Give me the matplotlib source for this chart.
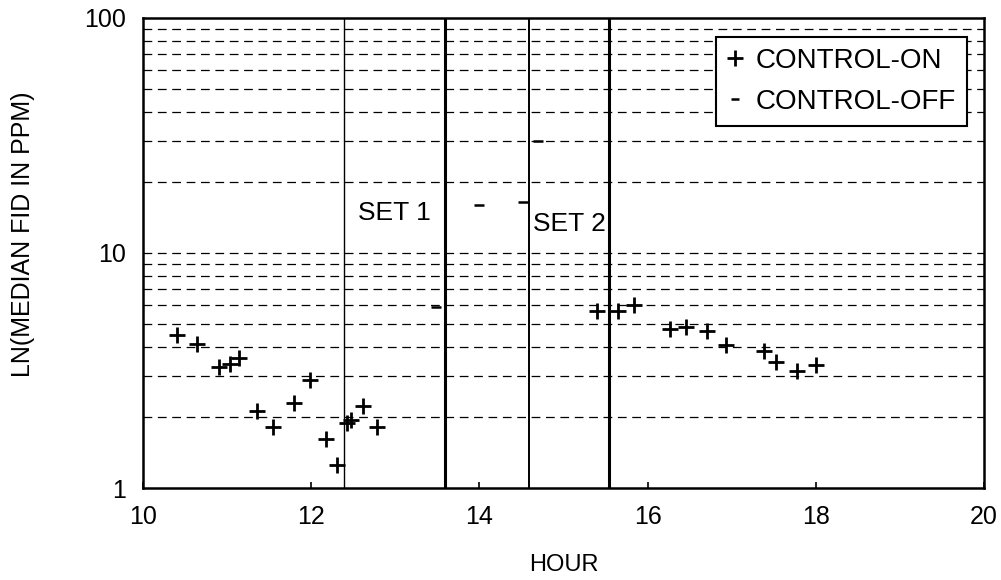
import matplotlib
matplotlib.use("Agg")
import matplotlib.pyplot as plt
from matplotlib.lines import Line2D
from matplotlib.ticker import FixedLocator, NullFormatter, FixedFormatter

plt.rcParams['font.family'] = ['Liberation Sans', 'DejaVu Sans']

# control-on samples (hour, median FID in ppm)
on_hour = [10.40, 10.64, 10.90, 11.03, 11.14, 11.36, 11.54, 11.80, 11.99,
           12.17, 12.31, 12.42, 12.47, 12.61, 12.78,
           15.40, 15.65, 15.84, 16.27, 16.46, 16.71, 16.93,
           17.38, 17.53, 17.78, 18.00]
on_ppm = [4.48, 4.09, 3.26, 3.37, 3.56, 2.13, 1.82, 2.30, 2.88,
          1.62, 1.25, 1.90, 1.95, 2.23, 1.82,
          5.68, 5.68, 6.00, 4.75, 4.86, 4.67, 4.07,
          3.83, 3.45, 3.16, 3.34]

# control-off samples
off_hour = [13.48, 14.00, 14.52, 14.70]
off_ppm = [5.9, 16.0, 16.5, 30.0]

# boundaries between test sets
set_bounds = [12.39, 13.59, 14.59, 15.54]
set_widths = [1.0, 2.2, 1.4, 2.2]
set_labels = ["SET 1", "SET 2"]
set_label_pos = [(12.56, 14.8), (14.64, 13.3)]

x_ticks = [10, 12, 14, 16, 18, 20]
y_major = [1, 10, 100]
y_minor = [2, 3, 4, 5, 6, 7, 8, 9, 20, 30, 40, 50, 60, 70, 80, 90]

fig = plt.figure(figsize=(10.01, 5.8), dpi=100)
ax = fig.add_axes([0.1429, 0.1586, 0.8402, 0.8104])

ax.set_yscale('log')
ax.set_xlim(10, 20)
ax.set_ylim(1, 100)

# dashed horizontal grid at every decade subdivision
for v in y_minor + [10]:
    ax.axhline(v, color='black', lw=0.9, ls=(0, (7, 4.5)), zorder=1)

for xb, w in zip(set_bounds, set_widths):
    ax.axvline(xb, color='black', lw=w, zorder=2)

ax.plot(on_hour, on_ppm, ls='none', marker='+', ms=11, mew=2.0,
        color='black', zorder=3)
ax.plot(off_hour, off_ppm, ls='none', marker='_', ms=7, mew=1.8,
        color='black', zorder=3)

for txt, (tx, ty) in zip(set_labels, set_label_pos):
    ax.text(tx, ty, txt, fontsize=19, ha='left', va='center', zorder=4,
            bbox=dict(facecolor='white', edgecolor='none', pad=1))

ax.xaxis.set_major_locator(FixedLocator(x_ticks))
ax.yaxis.set_major_locator(FixedLocator(y_major))
ax.yaxis.set_major_formatter(FixedFormatter([str(v) for v in y_major]))
ax.yaxis.set_minor_locator(FixedLocator(y_minor))
ax.yaxis.set_minor_formatter(NullFormatter())
ax.tick_params(axis='both', which='both', direction='in', labelsize=18,
               width=1.2, color='black')
ax.tick_params(axis='x', length=4, pad=12)
ax.tick_params(axis='y', which='major', length=0, pad=12)
ax.tick_params(axis='y', which='minor', length=0)

for sp in ax.spines.values():
    sp.set_linewidth(1.8)

ax.set_xlabel('HOUR', fontsize=17, labelpad=18)
ax.set_ylabel('LN(MEDIAN FID IN PPM)', fontsize=18)
ax.yaxis.set_label_coords(-0.128, 0.54)

handles = [
    Line2D([], [], ls='none', marker='+', ms=11, mew=2.0, color='black', label='CONTROL-ON'),
    Line2D([], [], ls='none', marker='_', ms=6, mew=1.8, color='black', label='CONTROL-OFF'),
]
leg = ax.legend(handles=handles, loc='upper right', bbox_to_anchor=(0.98, 0.96),
                fontsize=20, frameon=True, fancybox=False, framealpha=1,
                edgecolor='black', handlelength=0.6, handletextpad=0.45,
                borderpad=0.4, labelspacing=0.55, borderaxespad=0)
leg.get_frame().set_linewidth(1.5)
leg.set_zorder(5)

fig.savefig('out.png', dpi=100)
